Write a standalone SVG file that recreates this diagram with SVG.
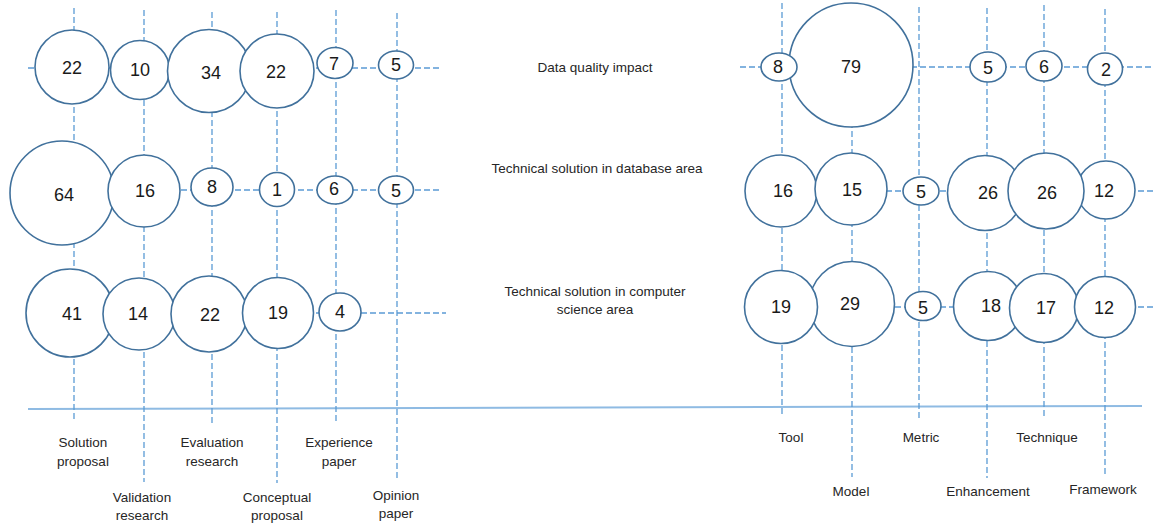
<svg xmlns="http://www.w3.org/2000/svg" width="1156" height="523" viewBox="0 0 1156 523">
<style>
.grid{stroke:#5b9bd5;stroke-width:1.3;stroke-dasharray:6 3;fill:none}
.base{stroke:#8fbbe3;stroke-width:2;fill:none}
.node circle,.node ellipse{fill:#fff;stroke:#41719c;stroke-width:1.6}
.num{font-family:"Liberation Sans",Arial,sans-serif;font-size:18px;fill:#1a1a1a;text-anchor:middle;dominant-baseline:central}
.lbl{font-family:"Liberation Sans",Arial,sans-serif;font-size:13.5px;fill:#262626;text-anchor:middle}
</style>
<rect width="1156" height="523" fill="#fff"/>
<g id="connectors">
  <line class="base" x1="28" y1="409" x2="1142" y2="406"/>
  <!-- left verticals -->
  <line class="grid" x1="74" y1="8" x2="74" y2="422"/>
  <line class="grid" x1="144" y1="10" x2="144" y2="482"/>
  <line class="grid" x1="212" y1="12" x2="212" y2="426"/>
  <line class="grid" x1="277" y1="12" x2="277" y2="483"/>
  <line class="grid" x1="336" y1="10" x2="336" y2="424"/>
  <line class="grid" x1="397" y1="13" x2="397" y2="480"/>
  <!-- right verticals -->
  <line class="grid" x1="782" y1="3" x2="782" y2="417"/>
  <line class="grid" x1="852" y1="5" x2="852" y2="477"/>
  <line class="grid" x1="919" y1="7" x2="919" y2="421"/>
  <line class="grid" x1="987" y1="8" x2="987" y2="478"/>
  <line class="grid" x1="1044" y1="5" x2="1044" y2="419"/>
  <line class="grid" x1="1105" y1="9" x2="1105" y2="475"/>
  <!-- left horizontals -->
  <line class="grid" x1="28" y1="68" x2="440" y2="68"/>
  <line class="grid" x1="28" y1="190" x2="440" y2="190"/>
  <line class="grid" x1="28" y1="313" x2="446" y2="313"/>
  <!-- right horizontals -->
  <line class="grid" x1="740" y1="67" x2="1153" y2="67"/>
  <line class="grid" x1="760" y1="191" x2="1155" y2="191"/>
  <line class="grid" x1="760" y1="307" x2="1155" y2="307"/>
</g>

<!-- Left row 1 -->
<g id="n-sp-dq" class="node"><circle cx="72" cy="67" r="37"/><text class="num" x="72" y="68">22</text></g>
<g id="n-vr-dq" class="node"><circle cx="140" cy="70" r="29.5"/><text class="num" x="140" y="70">10</text></g>
<g id="n-er-dq" class="node"><circle cx="209" cy="71" r="41.5"/><text class="num" x="211" y="73">34</text></g>
<g id="n-cp-dq" class="node"><circle cx="277" cy="71" r="37"/><text class="num" x="276" y="72">22</text></g>
<g id="n-ep-dq" class="node"><ellipse cx="335" cy="63" rx="18" ry="15.5"/><text class="num" x="334" y="64">7</text></g>
<g id="n-op-dq" class="node"><ellipse cx="396" cy="65" rx="17.5" ry="14"/><text class="num" x="396" y="65">5</text></g>

<!-- Left row 2 -->
<g id="n-sp-db" class="node"><circle cx="62" cy="193" r="52"/><text class="num" x="64" y="195">64</text></g>
<g id="n-vr-db" class="node"><circle cx="144" cy="191" r="36"/><text class="num" x="145" y="191">16</text></g>
<g id="n-er-db" class="node"><ellipse cx="212" cy="187" rx="21" ry="19"/><text class="num" x="212" y="187">8</text></g>
<g id="n-cp-db" class="node"><ellipse cx="277" cy="189.5" rx="17.5" ry="17"/><text class="num" x="277" y="190">1</text></g>
<g id="n-ep-db" class="node"><ellipse cx="335" cy="190" rx="18" ry="14"/><text class="num" x="334" y="189">6</text></g>
<g id="n-op-db" class="node"><ellipse cx="396" cy="190" rx="17.5" ry="14"/><text class="num" x="396" y="191">5</text></g>

<!-- Left row 3 -->
<g id="n-sp-cs" class="node"><circle cx="70" cy="313" r="44"/><text class="num" x="72" y="314">41</text></g>
<g id="n-vr-cs" class="node"><circle cx="139" cy="314" r="36"/><text class="num" x="138" y="314">14</text></g>
<g id="n-er-cs" class="node"><circle cx="209" cy="314" r="38"/><text class="num" x="210" y="315">22</text></g>
<g id="n-cp-cs" class="node"><circle cx="278" cy="313" r="35.5"/><text class="num" x="278" y="313">19</text></g>
<g id="n-ep-cs" class="node"><ellipse cx="340" cy="312" rx="21" ry="19"/><text class="num" x="340" y="312">4</text></g>

<!-- Right row 1 -->
<g id="n-model-dq" class="node"><circle cx="851" cy="65" r="62"/><text class="num" x="851" y="67">79</text></g>
<g id="n-tool-dq" class="node"><ellipse cx="779" cy="67" rx="18" ry="14"/><text class="num" x="778" y="67">8</text></g>
<g id="n-enh-dq" class="node"><ellipse cx="988" cy="67" rx="18" ry="15"/><text class="num" x="988" y="68">5</text></g>
<g id="n-tech-dq" class="node"><ellipse cx="1044" cy="66" rx="18" ry="15"/><text class="num" x="1044" y="67">6</text></g>
<g id="n-fw-dq" class="node"><ellipse cx="1105" cy="69" rx="17.5" ry="16"/><text class="num" x="1106" y="70">2</text></g>

<!-- Right row 2 -->
<g id="n-tool-db" class="node"><circle cx="781" cy="191" r="36"/><text class="num" x="783" y="191">16</text></g>
<g id="n-model-db" class="node"><circle cx="851" cy="189" r="36"/><text class="num" x="852" y="190">15</text></g>
<g id="n-metric-db" class="node"><ellipse cx="921" cy="191" rx="18" ry="14"/><text class="num" x="921" y="192">5</text></g>
<g id="n-enh-db" class="node"><circle cx="985" cy="193" r="37.5"/><text class="num" x="988" y="193">26</text></g>
<g id="n-fw-db" class="node"><circle cx="1106" cy="190" r="29"/><text class="num" x="1104" y="191">12</text></g>
<g id="n-tech-db" class="node"><circle cx="1046" cy="191" r="38"/><text class="num" x="1047" y="193">26</text></g>

<!-- Right row 3 -->
<g id="n-model-cs" class="node"><circle cx="852" cy="304" r="42.5"/><text class="num" x="850" y="304">29</text></g>
<g id="n-tool-cs" class="node"><circle cx="781" cy="307" r="36.5"/><text class="num" x="781" y="307">19</text></g>
<g id="n-metric-cs" class="node"><ellipse cx="923" cy="306" rx="18" ry="14.5"/><text class="num" x="923" y="308">5</text></g>
<g id="n-enh-cs" class="node"><circle cx="988" cy="306" r="34.5"/><text class="num" x="991" y="306">18</text></g>
<g id="n-tech-cs" class="node"><circle cx="1044" cy="308" r="34.5"/><text class="num" x="1046" y="308">17</text></g>
<g id="n-fw-cs" class="node"><circle cx="1105" cy="307" r="30.5"/><text class="num" x="1104" y="308">12</text></g>

<!-- Row labels -->
<g id="row-labels">
  <text class="lbl" x="595" y="72">Data quality impact</text>
  <text class="lbl" x="597" y="173">Technical solution in database area</text>
  <text class="lbl" x="595" y="296">Technical solution in computer</text>
  <text class="lbl" x="595" y="314">science area</text>
</g>

<!-- Left axis labels -->
<g id="left-labels">
  <text class="lbl" x="83" y="447">Solution</text>
  <text class="lbl" x="83" y="466">proposal</text>
  <text class="lbl" x="142" y="502">Validation</text>
  <text class="lbl" x="142" y="520">research</text>
  <text class="lbl" x="212" y="447">Evaluation</text>
  <text class="lbl" x="212" y="466">research</text>
  <text class="lbl" x="277" y="502">Conceptual</text>
  <text class="lbl" x="277" y="520">proposal</text>
  <text class="lbl" x="339" y="447">Experience</text>
  <text class="lbl" x="339" y="466">paper</text>
  <text class="lbl" x="396" y="500">Opinion</text>
  <text class="lbl" x="396" y="518">paper</text>
</g>

<!-- Right axis labels -->
<g id="right-labels">
  <text class="lbl" x="791" y="442">Tool</text>
  <text class="lbl" x="851" y="496">Model</text>
  <text class="lbl" x="921" y="442">Metric</text>
  <text class="lbl" x="988" y="496">Enhancement</text>
  <text class="lbl" x="1047" y="442">Technique</text>
  <text class="lbl" x="1103" y="494">Framework</text>
</g>
</svg>
